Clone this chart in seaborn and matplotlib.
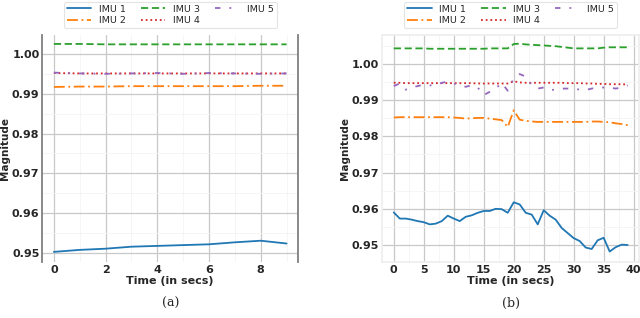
import numpy as np
import pandas as pd
import matplotlib
matplotlib.use("Agg")
import matplotlib.pyplot as plt
from matplotlib.ticker import MultipleLocator, AutoMinorLocator
import seaborn as sns

# ---------------- data ----------------
time_a = list(range(10))
imu1_a = [0.9503, 0.9508, 0.9511, 0.9516, 0.9518, 0.9520, 0.9522, 0.9527, 0.9531, 0.9524]
imu2_a = [0.9917, 0.9918, 0.9918, 0.9919, 0.9919, 0.9919, 0.9919, 0.9919, 0.9920, 0.9920]
imu3_a = [1.0025, 1.0025, 1.0024, 1.0024, 1.0024, 1.0024, 1.0024, 1.0024, 1.0024, 1.0024]
imu4_a = [0.9952, 0.9951, 0.9951, 0.9951, 0.9951, 0.9951, 0.9951, 0.9951, 0.9951, 0.9951]
imu5_a = [0.9953, 0.9951, 0.9950, 0.9951, 0.9952, 0.9950, 0.9952, 0.9951, 0.9950, 0.9951]

time_b = list(range(40))
imu1_b = [0.9590, 0.9573, 0.9573, 0.9570, 0.9566, 0.9563, 0.9557, 0.9559, 0.9566, 0.9581,
          0.9573, 0.9566, 0.9578, 0.9582, 0.9589, 0.9594, 0.9594, 0.9600, 0.9599, 0.9589,
          0.9618, 0.9612, 0.9589, 0.9584, 0.9557, 0.9596, 0.9581, 0.9570, 0.9547, 0.9533,
          0.9519, 0.9511, 0.9493, 0.9489, 0.9513, 0.9520, 0.9482, 0.9494, 0.9501, 0.9500]
imu2_b = [0.9852, 0.9853, 0.9853, 0.9853, 0.9853, 0.9853, 0.9853, 0.9853, 0.9853, 0.9853,
          0.9852, 0.9851, 0.9849, 0.9850, 0.9851, 0.9851, 0.9849, 0.9847, 0.9845, 0.9826,
          0.9872, 0.9846, 0.9843, 0.9841, 0.9840, 0.9840, 0.9840, 0.9840, 0.9840, 0.9840,
          0.9840, 0.9840, 0.9840, 0.9841, 0.9841, 0.9840, 0.9839, 0.9836, 0.9834, 0.9831]
imu3_b = [1.0043, 1.0043, 1.0043, 1.0043, 1.0043, 1.0043, 1.0042, 1.0042, 1.0042, 1.0042,
          1.0042, 1.0042, 1.0042, 1.0042, 1.0042, 1.0042, 1.0043, 1.0043, 1.0043, 1.0043,
          1.0055, 1.0056, 1.0054, 1.0053, 1.0052, 1.0051, 1.0050, 1.0049, 1.0047, 1.0045,
          1.0043, 1.0043, 1.0043, 1.0043, 1.0043, 1.0045, 1.0046, 1.0046, 1.0046, 1.0046]
imu4_b = [0.9948, 0.9948, 0.9947, 0.9947, 0.9947, 0.9947, 0.9947, 0.9947, 0.9947, 0.9947,
          0.9947, 0.9947, 0.9947, 0.9947, 0.9946, 0.9946, 0.9946, 0.9946, 0.9946, 0.9946,
          0.9952, 0.9949, 0.9948, 0.9948, 0.9948, 0.9948, 0.9948, 0.9948, 0.9948, 0.9947,
          0.9947, 0.9947, 0.9946, 0.9946, 0.9945, 0.9945, 0.9944, 0.9944, 0.9944, 0.9943]
imu5_b = [0.9939, 0.9946, 0.9929, 0.9935, 0.9939, 0.9943, 0.9941, 0.9941, 0.9948, 0.9951,
          0.9946, 0.9941, 0.9937, 0.9941, 0.9935, 0.9914, 0.9923, 0.9932, 0.9948, 0.9926,
          0.9960, 0.9972, 0.9965, 0.9941, 0.9932, 0.9935, 0.9928, 0.9929, 0.9932, 0.9932,
          0.9932, 0.9929, 0.9928, 0.9932, 0.9935, 0.9935, 0.9935, 0.9932, 0.9935, 0.9941]

labels = ["IMU 1", "IMU 2", "IMU 3", "IMU 4", "IMU 5"]
yticks = [0.95, 0.96, 0.97, 0.98, 0.99, 1.00]
captions = ["(a)", "(b)"]

# ---------------- style ----------------
sns.set_theme(style="whitegrid")
plt.rcParams["font.family"] = ["DejaVu Sans"]

colors = sns.color_palette("tab10", 5)
styles = ["-", (0, (6, 2, 1, 2)), (0, (4, 2)), (0, (1, 1.6)), (0, (3, 5, 1, 5))]

fig = plt.figure(figsize=(6.4, 3.18), dpi=100)
ax_a = fig.add_axes([0.066, 0.176, 0.400, 0.714])
ax_b = fig.add_axes([0.597, 0.176, 0.402, 0.714])


def draw(ax, t, series, ylim, xticks):
    df = pd.DataFrame({"t": np.repeat([t], len(series), axis=0).ravel(),
                       "v": np.concatenate(series),
                       "s": np.repeat(labels, len(t))})
    for i, lab in enumerate(labels):
        sub = df[df["s"] == lab]
        sns.lineplot(data=sub, x="t", y="v", ax=ax, color=colors[i],
                     linestyle=styles[i], linewidth=1.3, label=lab)
    ax.set_ylim(*ylim)
    ax.set_yticks(yticks)
    ax.set_xticks(xticks)
    ax.yaxis.set_minor_locator(MultipleLocator(0.005))
    ax.xaxis.set_minor_locator(AutoMinorLocator(2))
    ax.grid(True, which="major", color="#c8c8c8", linewidth=0.9)
    ax.grid(True, which="minor", color="#f4f4f4", linewidth=0.6)
    ax.tick_params(axis="both", which="major", labelsize=8, pad=2, length=0)
    for lbl in ax.get_xticklabels() + ax.get_yticklabels():
        lbl.set_fontweight("bold")
    ax.set_xlabel("Time (in secs)", fontsize=8, fontweight="bold", labelpad=1)
    ax.set_ylabel("Magnitude", fontsize=7.5, fontweight="bold", labelpad=1.5)
    leg = ax.legend(loc="lower center", bbox_to_anchor=(0.5, 1.01), ncol=3,
                    fontsize=6.8, frameon=True, handlelength=2.6,
                    columnspacing=1.6, borderpad=0.3, labelspacing=0.25,
                    handletextpad=0.8)
    leg.get_frame().set_edgecolor("#dddddd")
    leg.get_frame().set_linewidth(0.8)


draw(ax_a, time_a, [imu1_a, imu2_a, imu3_a, imu4_a, imu5_a],
     (0.94775, 1.00475), [0, 2, 4, 6, 8])
draw(ax_b, time_b, [imu1_b, imu2_b, imu3_b, imu4_b, imu5_b],
     (0.9453, 1.008), [0, 5, 10, 15, 20, 25, 30, 35, 40])

for sp in ["top", "bottom"]:
    ax_a.spines[sp].set_visible(False)
for sp in ["left", "right"]:
    ax_a.spines[sp].set_color("#808080")
    ax_a.spines[sp].set_linewidth(1.3)
for sp in ax_b.spines.values():
    sp.set_color("#eeeeee")

for ax, cap in zip([ax_a, ax_b], captions):
    ax.text(0.5, -0.155, cap, transform=ax.transAxes, ha="center", va="top",
            fontsize=9, family=["DejaVu Serif"])

fig.savefig("out.png", dpi=100)
